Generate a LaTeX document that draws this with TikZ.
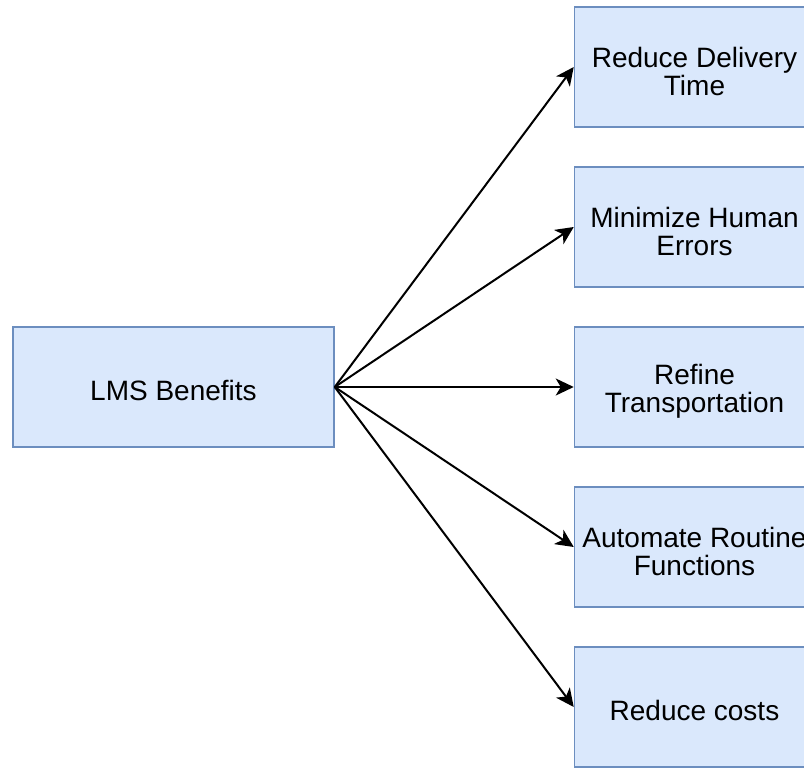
\documentclass[tikz,border=0pt]{standalone}
\usepackage{fontspec}
\setmainfont{Liberation Sans}
\usetikzlibrary{arrows.meta}
\definecolor{boxfill}{HTML}{DAE8FC}
\definecolor{boxline}{HTML}{6C8EBF}
\begin{document}
\begin{tikzpicture}[x=1pt,y=-1pt,
  box/.style={draw=boxline, fill=boxfill, line width=1.5pt, rectangle,
    minimum height=120pt, inner sep=0pt, align=center,
    font=\fontsize{28}{28}\selectfont},
  lbl/.style={align=center, inner sep=0pt, font=\fontsize{28}{28}\selectfont},
  link/.style={line width=2pt, -{Stealth[length=18pt,width=17pt,inset=5pt]}}]
\useasboundingbox (0,0) rectangle (804,769);
\clip (0,0) rectangle (804,769);
\node[box, minimum width=321pt] (lms) at (173.5,387) {};
\node[box, minimum width=240pt] (r1) at (694.5,67) {};
\node[box, minimum width=240pt] (r2) at (694.5,227) {};
\node[box, minimum width=240pt] (r3) at (694.5,387) {};
\node[box, minimum width=240pt] (r4) at (694.5,547) {};
\node[box, minimum width=240pt] (r5) at (694.5,707) {};
% labels, set a little below each box centre
\node[lbl] (t0) at ([yshift=-3pt]lms.center) {LMS Benefits};
\node[lbl] (t1) at ([yshift=-4pt]r1.center) {Reduce Delivery\\Time};
\node[lbl] (t2) at ([yshift=-4pt]r2.center) {Minimize Human\\Errors};
\node[lbl] (t3) at ([yshift=-4pt]r3.center) {Refine\\Transportation};
\node[lbl] (t4) at ([yshift=-4pt]r4.center) {Automate Routine\\Functions};
\node[lbl] (t5) at ([yshift=-3pt]r5.center) {Reduce costs};
\foreach \t in {r1,r2,r3,r4,r5}
  \draw[link] (lms.east) -- (\t.west);
\end{tikzpicture}
\end{document}
